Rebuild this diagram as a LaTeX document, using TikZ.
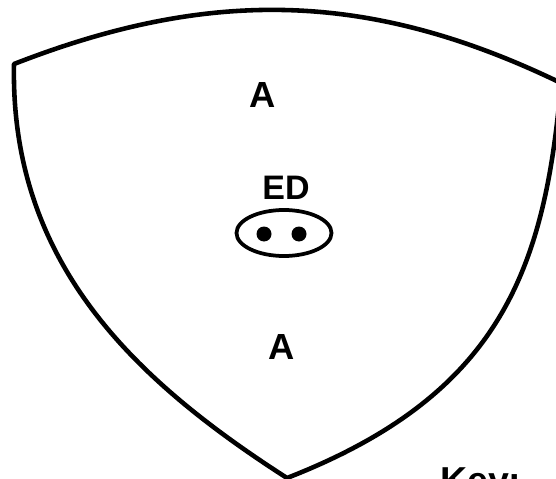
\documentclass[tikz,border=0pt]{standalone}
\usepackage{fontspec}
\setmainfont{Liberation Sans}
\usetikzlibrary{shapes.geometric,positioning}
\tikzset{
  outline/.style={draw, line width=3.9pt, line join=round},
  lbl/.style={font=\fontsize{31}{33}\selectfont\bfseries, inner sep=0pt},
  edlbl/.style={font=\fontsize{29}{31}\selectfont\bfseries, inner sep=0pt},
  keytxt/.style={font=\fontsize{32}{34}\selectfont\bfseries, inner sep=0pt, anchor=base west},
  nucleus/.style={draw, ellipse, line width=3.2pt, minimum width=2.85cm, minimum height=1.38cm, inner sep=0pt},
  spot/.style={circle, fill=black, minimum size=0.45cm, inner sep=0pt}
}
\begin{document}
\begin{tikzpicture}[x=0.03cm,y=-0.03cm]
  \useasboundingbox (0,0) rectangle (556,479);
  \clip (0,0) rectangle (556,479);
  % corners of the shell
  \coordinate (tl) at (14,64);
  \coordinate (tr) at (561,83);
  \coordinate (bot) at (287,478);
  \draw[outline] (tl) .. controls (209,-12) and (369,-10) .. (tr)
                      .. controls (545,270) and (500,395) .. (bot)
                      .. controls (136,381) and (10,264) .. (tl) -- cycle;
  \node[lbl] (topA) at (263,95) {A};
  \node[edlbl] (ed) at (286,188) {ED};
  \node[nucleus] (egg) at (284,233) {};
  \node[spot] (dotL) at (264,234) {};
  \node[spot] (dotR) at (299,234) {};
  \node[lbl] (botA) at (282,347) {A};
  \node[keytxt] (key) at (440,493) {Key:};
\end{tikzpicture}
\end{document}
